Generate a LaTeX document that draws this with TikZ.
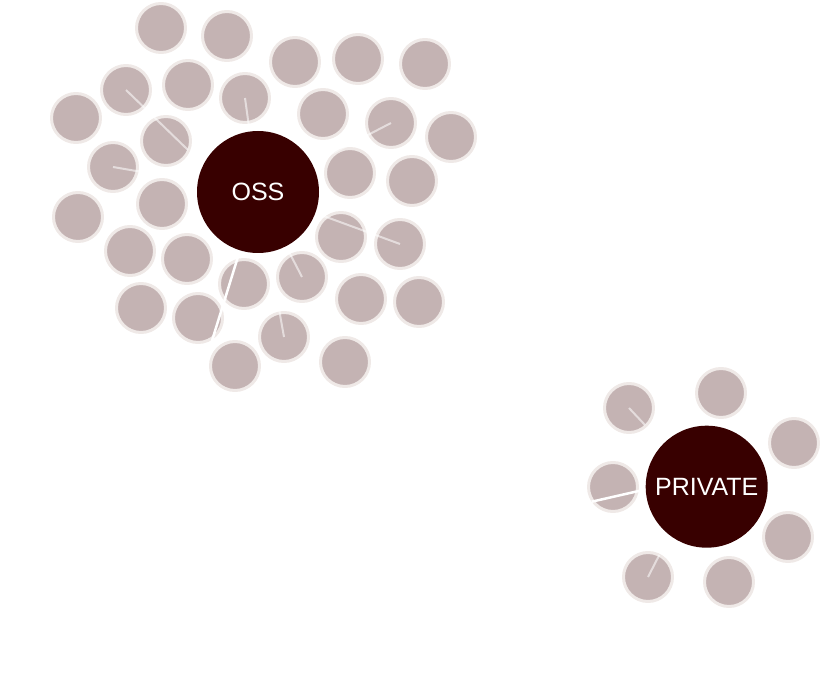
\documentclass[tikz,border=0pt]{standalone}
\usepackage{fontspec}
\setmainfont{Liberation Sans}
\definecolor{leafgrey}{RGB}{196,179,179}
\definecolor{leafrim}{RGB}{239,233,231}
\definecolor{hubred}{RGB}{56,0,0}
\usetikzlibrary{positioning}

\begin{document}
\begin{tikzpicture}[x=1pt, y=-1pt,
  leaf/.style={circle, draw=leafrim, fill=leafgrey, line width=3pt, minimum size=49pt, inner sep=0pt},
  hub/.style={circle, fill=hubred, minimum size=122pt, inner sep=0pt, text=white, font=\fontsize{25}{25}\selectfont},
  link/.style={white, opacity=0.55, line width=2pt},
  strong/.style={white, line width=2.5pt}]
  \useasboundingbox (0,0) rectangle (824,700);
  % OSS group
  \node[leaf] (o1) at (161,28) {};
  \node[leaf] (o2) at (227,36) {};
  \node[leaf] (o3) at (295,62) {};
  \node[leaf] (o4) at (358,59) {};
  \node[leaf] (o5) at (425,64) {};
  \node[leaf] (o6) at (126,90) {};
  \node[leaf] (o7) at (188,85) {};
  \node[leaf] (o8) at (245,98) {};
  \node[leaf] (o9) at (76,118) {};
  \node[leaf] (o10) at (323,114) {};
  \node[leaf] (o11) at (391,123) {};
  \node[leaf] (o12) at (451,137) {};
  \node[leaf] (o13) at (166,141) {};
  \node[leaf] (o14) at (113,167) {};
  \node[leaf] (o15) at (350,173) {};
  \node[leaf] (o16) at (412,181) {};
  \node[leaf] (o17) at (78,217) {};
  \node[leaf] (o18) at (162,204) {};
  \node[leaf] (o19) at (130,251) {};
  \node[leaf] (o20) at (187,259) {};
  \node[leaf] (o21) at (341,237) {};
  \node[leaf] (o22) at (400,244) {};
  \node[leaf] (o23) at (244,284) {};
  \node[leaf] (o24) at (302,277) {};
  \node[leaf] (o25) at (141,308) {};
  \node[leaf] (o26) at (198,318) {};
  \node[leaf] (o27) at (361,299) {};
  \node[leaf] (o28) at (419,302) {};
  \node[leaf] (o29) at (284,337) {};
  \node[leaf] (o30) at (235,366) {};
  \node[leaf] (o31) at (345,362) {};
  % PRIVATE group
  \node[leaf] (p1) at (629,408) {};
  \node[leaf] (p2) at (721,393) {};
  \node[leaf] (p3) at (794,443) {};
  \node[leaf] (p4) at (613,487) {};
  \node[leaf] (p5) at (788,537) {};
  \node[leaf] (p6) at (648,577) {};
  \node[leaf] (p7) at (729,582) {};
  % links
  \coordinate (o6end) at (188,150);
  \coordinate (ossfar) at (211.7,341.7);
  \coordinate (p1end) at (645,425);
  \coordinate (p4near) at (640,490.7);
  \coordinate (p4far) at (591.7,501.7);
  \coordinate (p6end) at (659.3,555);
  \draw[link] (o6.center) -- (o6end);
  \draw[link] (o8.center) -- (258,192);
  \draw[link] (o11.center) -- (258,192);
  \draw[link] (o14.center) -- (258,192);
  \draw[link] (o22.center) -- (258,192);
  \draw[link] (o24.center) -- (258,192);
  \draw[link] (o29.center) -- (258,192);
  \draw[strong] (258,192) -- (ossfar);
  \draw[link] (p1.center) -- (p1end);
  \draw[link] (p6.center) -- (p6end);
  \draw[strong] (p4near) -- (p4far);
  % hubs
  \node[hub] (oss) at (258,192) {OSS};
  \node[hub] (private) at (706.7,486.7) {PRIVATE};
\end{tikzpicture}
\end{document}
